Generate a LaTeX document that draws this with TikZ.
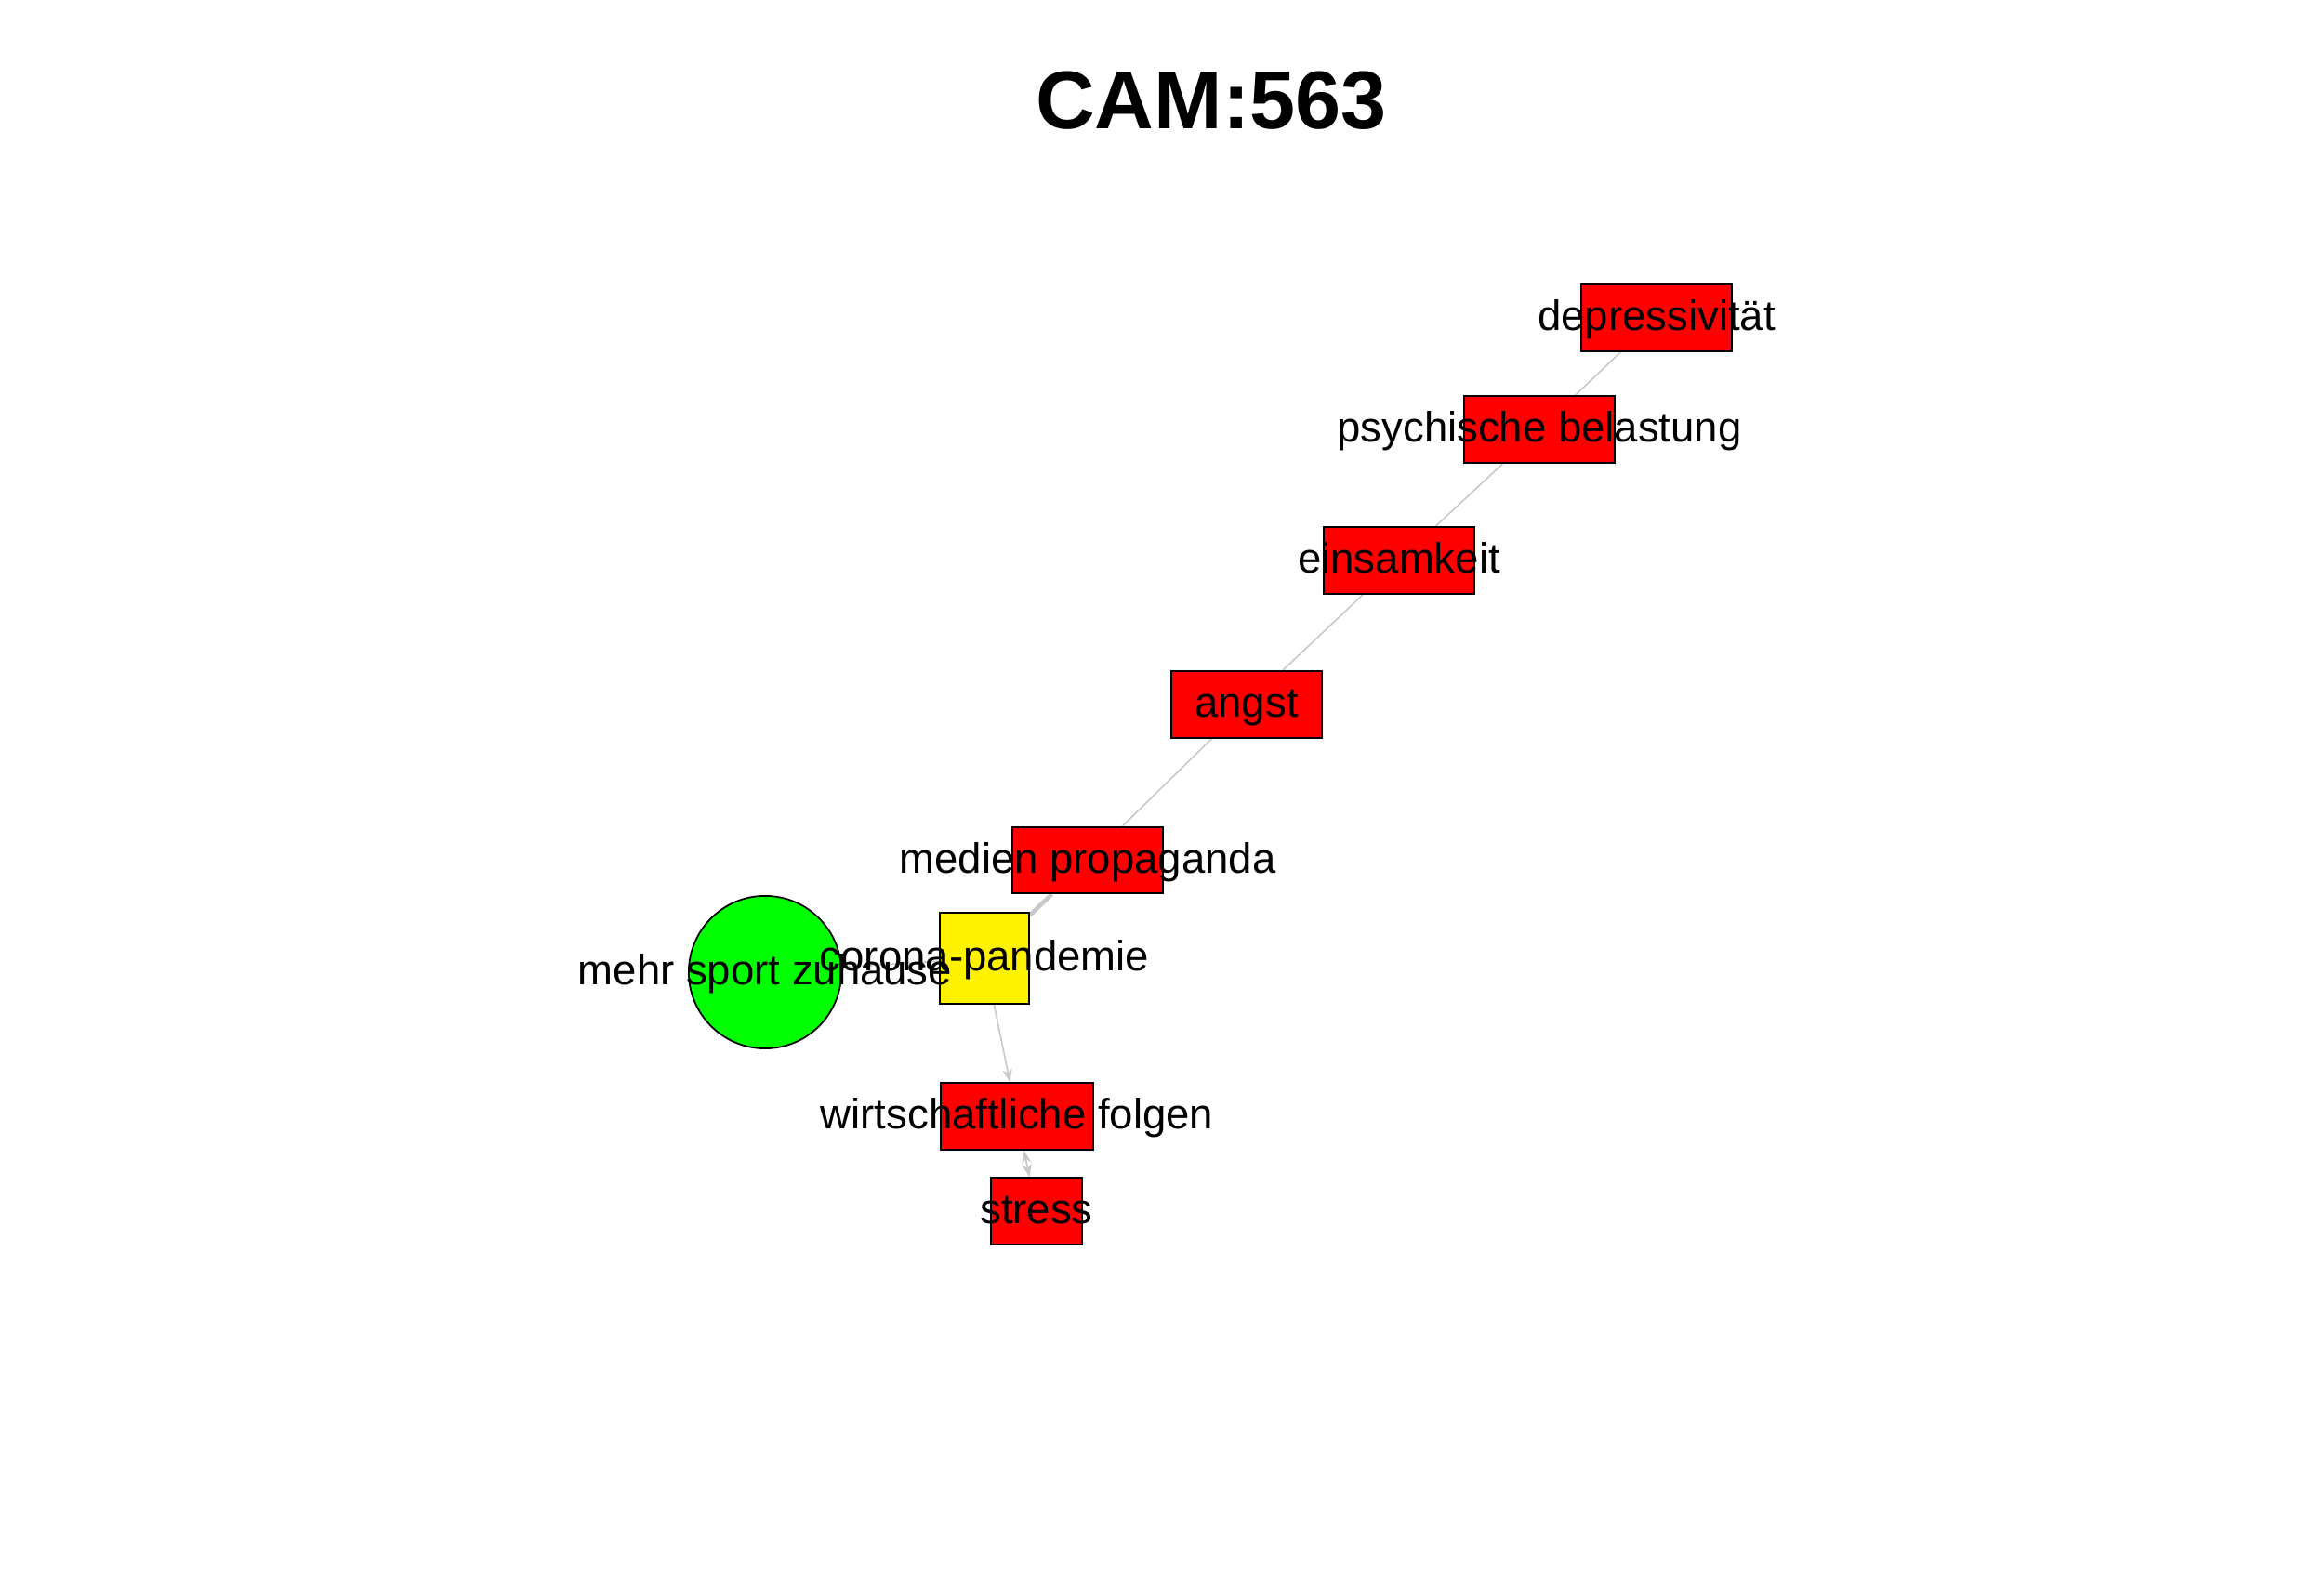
\documentclass[tikz,border=0pt]{standalone}
\usepackage{fontspec}
\setmainfont{Liberation Sans}
\usetikzlibrary{arrows.meta,backgrounds}

\tikzset{
  concept/.style={draw=black, line width=0.5pt, inner sep=0pt},
  negative/.style={concept, rectangle, fill=red, minimum width=1.626cm, minimum height=0.717cm},
  neutral/.style={concept, rectangle, fill=yellow, minimum width=0.957cm, minimum height=0.973cm},
  positive/.style={concept, circle, fill={rgb,255:red,0;green,255;blue,0}, minimum size=1.642cm},
  conceptname/.style={inner sep=0pt, text height=1.7ex, text depth=0.2ex},
  link/.style={draw={rgb,255:red,200;green,200;blue,200}, line width=0.45pt},
}

\begin{document}
\begin{tikzpicture}[font=\fontsize{12.95}{15}\selectfont]

  \useasboundingbox (0,0) rectangle (25,17);

  \node[font=\fontsize{25.1}{30}\selectfont\bfseries] (title) at (13.03,15.92) {CAM:563};

  % concepts
  \node[negative] (depr) at (17.82,13.58) {};
  \node[negative] (psych) at (16.56,12.38) {};
  \node[negative] (einsam) at (15.05,10.97) {};
  \node[negative] (angst) at (13.41,9.42) {};
  \node[negative] (medien) at (11.70,7.745) {};
  \node[neutral] (corona) at (10.59,6.69) {};
  \node[positive] (sport) at (8.23,6.54) {};
  \node[negative, minimum width=1.642cm] (wirt) at (10.94,4.99) {};
  \node[negative, minimum width=0.973cm] (stress) at (11.15,3.97) {};

  % names on top of all shapes
  \node[conceptname] (depr-t) at (depr) {depressivität};
  \node[conceptname] (psych-t) at (psych) {psychische belastung};
  \node[conceptname] (einsam-t) at (einsam) {einsamkeit};
  \node[conceptname] (angst-t) at (angst) {angst};
  \node[conceptname] (medien-t) at (medien) {medien propaganda};
  \node[conceptname] (corona-t) at (corona) {corona-pandemie};
  \node[conceptname] (sport-t) at (sport) {mehr sport zuhause};
  \node[conceptname] (wirt-t) at (wirt) {wirtschaftliche folgen};
  \node[conceptname] (stress-t) at (stress) {stress};

  % connections
  \begin{pgfonlayer}{background}
    \draw[link] (depr) -- (psych);
    \draw[link] (psych) -- (einsam);
    \draw[link] (einsam) -- (angst);
    \draw[link] (angst) -- (medien);
    \draw[link, line width=1.3pt] (medien) -- (corona);
    \draw[link] (sport) -- (corona);
    \draw[link, -{Stealth[length=4pt,width=3pt]}] (corona) -- (wirt);
    \draw[link, {Stealth[length=4pt,width=3pt]}-{Stealth[length=4pt,width=3pt]}] (wirt) -- (stress);
  \end{pgfonlayer}

\end{tikzpicture}
\end{document}
